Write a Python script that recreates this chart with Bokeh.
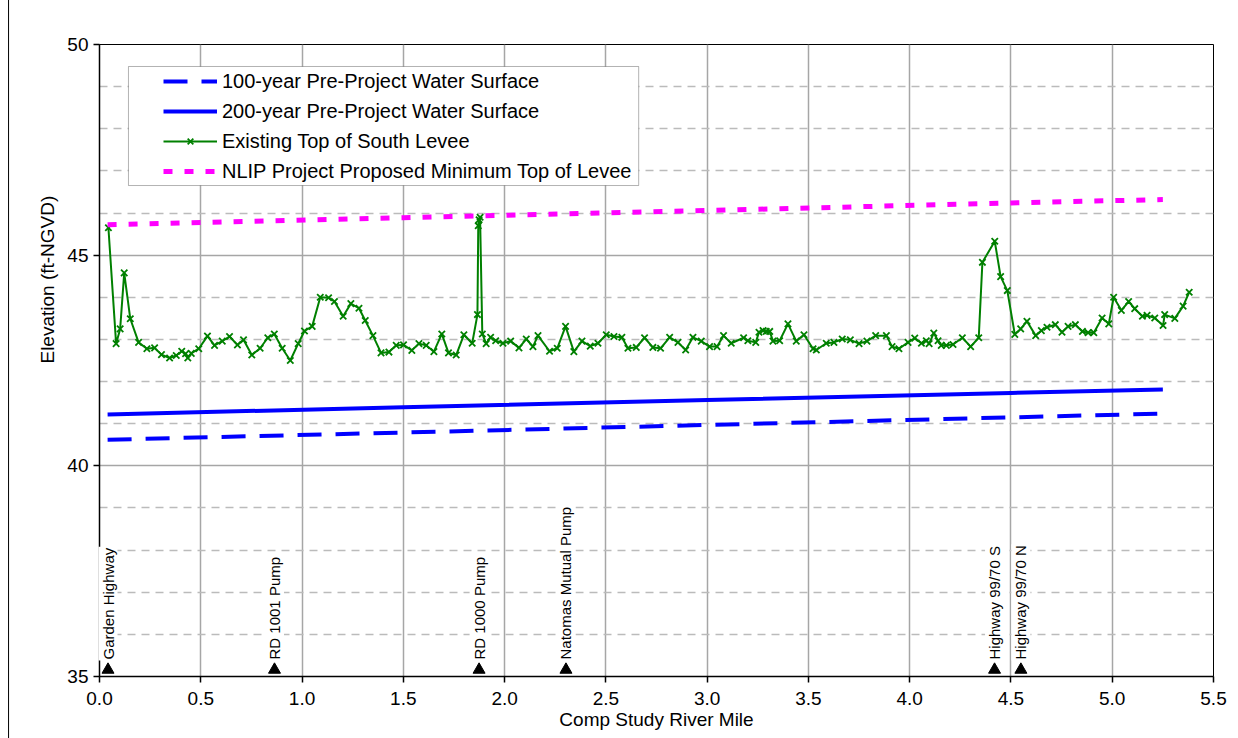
import math
from bokeh.plotting import figure
from bokeh.models import (Range1d, FixedTicker, NumeralTickFormatter, Legend, LegendItem,
                          BoxAnnotation, ColumnDataSource)
from bokeh.core.properties import value
from bokeh.embed import file_html
from bokeh.resources import INLINE

FONT = "Liberation Sans"

# ---------------- data ----------------
levee_x = [0.044, 0.082, 0.102, 0.122, 0.152, 0.193, 0.234, 0.272, 0.306, 0.346,
           0.379, 0.406, 0.425, 0.436, 0.453, 0.490, 0.533, 0.568, 0.606, 0.642,
           0.681, 0.711, 0.752, 0.793, 0.831, 0.863, 0.902, 0.942, 0.981, 1.012,
           1.050, 1.090, 1.131, 1.160, 1.203, 1.241, 1.281, 1.312, 1.350, 1.390,
           1.429, 1.465, 1.501, 1.542, 1.577, 1.613, 1.651, 1.690, 1.723, 1.761,
           1.799, 1.840, 1.866, 1.870, 1.874, 1.879, 1.890, 1.909, 1.931, 1.956,
           1.992, 2.030, 2.071, 2.107, 2.140, 2.165, 2.222, 2.260, 2.301, 2.342,
           2.382, 2.423, 2.461, 2.502, 2.540, 2.579, 2.609, 2.650, 2.691, 2.732,
           2.770, 2.815, 2.856, 2.894, 2.930, 2.971, 3.012, 3.049, 3.081, 3.119,
           3.180, 3.201, 3.240, 3.256, 3.276, 3.292, 3.309, 3.325, 3.358, 3.399,
           3.440, 3.478, 3.523, 3.539, 3.588, 3.626, 3.667, 3.707, 3.750, 3.789,
           3.832, 3.885, 3.913, 3.947, 3.992, 4.025, 4.058, 4.082, 4.096, 4.119,
           4.140, 4.156, 4.181, 4.214, 4.260, 4.301, 4.341, 4.359, 4.420, 4.449,
           4.482, 4.519, 4.548, 4.579, 4.622, 4.650, 4.678, 4.719, 4.752, 4.782,
           4.818, 4.853, 4.881, 4.909, 4.950, 4.983, 5.007, 5.045, 5.081, 5.111,
           5.149, 5.172, 5.210, 5.251, 5.259, 5.309, 5.350, 5.380]
levee_y = [45.65, 42.90, 43.25, 44.58, 43.49, 42.93, 42.78, 42.80, 42.64, 42.56,
           42.62, 42.72, 42.66, 42.56, 42.67, 42.78, 43.08, 42.86, 42.96, 43.07,
           42.87, 42.99, 42.63, 42.79, 43.04, 43.13, 42.79, 42.50, 42.90, 43.20,
           43.31, 44.00, 43.99, 43.90, 43.55, 43.85, 43.74, 43.45, 43.09, 42.68,
           42.70, 42.86, 42.87, 42.74, 42.90, 42.86, 42.71, 43.13, 42.68, 42.63,
           43.11, 42.91, 43.59, 45.70, 45.84, 45.90, 43.13, 42.90, 43.05, 42.97,
           42.91, 42.96, 42.80, 43.01, 42.83, 43.09, 42.72, 42.79, 43.31, 42.71,
           42.96, 42.84, 42.91, 43.11, 43.07, 43.05, 42.79, 42.81, 43.04, 42.81,
           42.79, 43.05, 42.93, 42.75, 43.05, 42.96, 42.83, 42.83, 43.09, 42.91,
           43.04, 42.97, 42.93, 43.17, 43.21, 43.19, 43.19, 42.96, 42.97, 43.37,
           42.96, 43.11, 42.78, 42.75, 42.91, 42.93, 43.01, 42.99, 42.90, 42.96,
           43.09, 43.09, 42.83, 42.78, 42.93, 43.03, 42.91, 42.97, 42.90, 43.15,
           42.97, 42.86, 42.86, 42.88, 43.04, 42.83, 43.04, 44.83, 45.33, 44.49,
           44.16, 43.12, 43.25, 43.43, 43.09, 43.21, 43.29, 43.35, 43.17, 43.31,
           43.35, 43.19, 43.16, 43.16, 43.51, 43.37, 44.00, 43.69, 43.90, 43.73,
           43.55, 43.57, 43.51, 43.33, 43.59, 43.50, 43.79, 44.12]

ws_x = [0.04, 1.5, 3.0, 4.5, 5.25]
ws100_y = [40.62, 40.79, 40.97, 41.15, 41.24]
ws200_y = [41.22, 41.39, 41.56, 41.73, 41.81]
nlip_y = [45.72, 45.89, 46.06, 46.24, 46.32]

landmark_names = ["Garden Highway", "RD 1001 Pump", "RD 1000 Pump",
                  "Natomas Mutual Pump", "Highway 99/70 S", "Highway 99/70 N"]
landmark_x = [0.042, 0.864, 1.874, 2.303, 4.419, 4.549]

x_ticks = [0.0, 0.5, 1.0, 1.5, 2.0, 2.5, 3.0, 3.5, 4.0, 4.5, 5.0, 5.5]
y_major = [35, 40, 45, 50]
y_minor = [36, 37, 38, 39, 41, 42, 43, 44, 46, 47, 48, 49]

series_labels = ["100-year Pre-Project Water Surface",
                 "200-year Pre-Project Water Surface",
                 "Existing Top of South Levee",
                 "NLIP Project Proposed Minimum Top of Levee"]
y_title = "Elevation (ft-NGVD)"

# ---------------- figure ----------------
p = figure(width=1238, height=738, x_range=Range1d(0, 5.5), y_range=Range1d(35, 50),
           output_backend="svg", toolbar_location=None,
           min_border_left=99, min_border_right=25, min_border_top=44, min_border_bottom=62,
           background_fill_color="white", border_fill_color="white")
p.outline_line_color = "black"
p.outline_line_width = 1

# axes
p.xaxis.ticker = FixedTicker(ticks=x_ticks)
p.xaxis.formatter = NumeralTickFormatter(format="0.0")
p.yaxis.ticker = FixedTicker(ticks=y_major, minor_ticks=y_minor)
for ax in (p.xaxis, p.yaxis):
    ax.axis_line_color = "black"
    ax.axis_line_width = 1.5
    ax.major_tick_line_color = "black"
    ax.major_tick_line_width = 1.5
    ax.major_tick_in = 0
    ax.major_tick_out = 6
    ax.minor_tick_line_color = None
    ax.major_label_text_font = FONT
    ax.major_label_text_font_size = "19px"
    ax.major_label_text_color = "black"
p.xaxis.major_label_standoff = 9
p.yaxis.major_label_standoff = 5
p.xaxis.axis_label = "Comp Study River Mile"
p.xaxis.axis_label_text_font = FONT
p.xaxis.axis_label_text_font_size = "19px"
p.xaxis.axis_label_text_font_style = "normal"
p.xaxis.axis_label_text_color = "black"
p.xaxis.axis_label_standoff = 1

# grids
p.xgrid.grid_line_color = "#a6a6a6"
p.xgrid.grid_line_width = 1.5
p.ygrid.grid_line_color = "#a6a6a6"
p.ygrid.grid_line_width = 1.5
p.ygrid.minor_grid_line_color = "#bbbbbb"
p.ygrid.minor_grid_line_width = 1.3
p.ygrid.minor_grid_line_dash = "8 6"

# outer chart-area border (left edge), drawn unclipped
border = p.segment(x0=[-0.449], y0=[55], x1=[-0.449], y1=[30], line_color="black", line_width=1)
border.level = "overlay"

# y axis title (placed like the original, above the frame's centre)
yt = p.text(x=[-0.257], y=[44.42], text=[y_title], angle=math.pi / 2,
            text_align="center", text_baseline="middle",
            text_font=value(FONT), text_font_size="19px", text_color="black")
yt.level = "overlay"

# series
r100 = p.line(ws_x, ws100_y, line_color="#0000ff", line_width=4, line_dash="24 14")
r200 = p.line(ws_x, ws200_y, line_color="#0000ff", line_width=4)
rlev = p.line(levee_x, levee_y, line_color="#008000", line_width=2)
rlevm = p.scatter(levee_x, levee_y, marker="x", size=9, line_color="#008000", line_width=1.8)
rnl = p.line(ws_x, nlip_y, line_color="#ff00ff", line_width=5, line_dash="9 12")

# landmarks
lm_src = ColumnDataSource(dict(x=landmark_x, text=landmark_names,
                               ym=[35.16] * len(landmark_x), yt=[35.38] * len(landmark_x)))
tr = p.text(x="x", y="yt", text="text", source=lm_src, angle=math.pi / 2,
            text_align="left", text_baseline="middle",
            text_font=value(FONT), text_font_size="15px", text_color="black",
            background_fill_color="white", padding=1)
tr.level = "overlay"
p.scatter(x="x", y="ym", source=lm_src, marker="triangle", size=12,
          fill_color="black", line_color="black")

# legend box + legend
p.add_layout(BoxAnnotation(left=0.143, right=2.662, top=49.478, bottom=46.653,
                           fill_color="white", fill_alpha=1, line_color="black", line_width=1))
legend = Legend(items=[LegendItem(label=series_labels[0], renderers=[r100]),
                       LegendItem(label=series_labels[1], renderers=[r200]),
                       LegendItem(label=series_labels[2], renderers=[rlev, rlevm]),
                       LegendItem(label=series_labels[3], renderers=[rnl])],
                location=(64, 492), orientation="vertical", margin=0,
                label_text_font=FONT, label_text_font_size="20px", label_text_color="black",
                glyph_width=54, glyph_height=20, label_height=26, label_standoff=5,
                spacing=4, padding=4, border_line_color=None, background_fill_alpha=0)
p.add_layout(legend)

open("out.html", "w").write(file_html(p, INLINE))
